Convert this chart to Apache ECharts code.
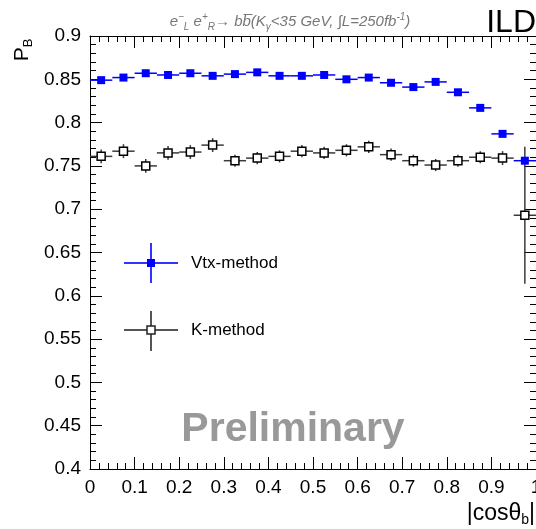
<!DOCTYPE html>
<html>
<head>
<meta charset="utf-8">
<script src="https://cdn.jsdelivr.net/npm/echarts@6/dist/echarts.min.js"></script>
<style>
html,body{margin:0;padding:0;background:#fff;}
#chart{width:536px;height:529px;}
</style>
</head>
<body>
<div id="chart"></div>
<script>
// ---- data ----
const binCenters = [0.025,0.075,0.125,0.175,0.225,0.275,0.325,0.375,0.425,0.475,
                    0.525,0.575,0.625,0.675,0.725,0.775,0.825,0.875,0.925,0.975];
const binHalfWidth = 0.025;
const vtxValues = [0.849,0.852,0.857,0.855,0.857,0.854,0.856,0.858,0.854,0.854,
                   0.855,0.850,0.852,0.846,0.841,0.847,0.835,0.817,0.787,0.756];
const vtxErrors = [0.003,0.003,0.003,0.003,0.003,0.003,0.003,0.003,0.003,0.003,
                   0.003,0.003,0.003,0.003,0.003,0.003,0.003,0.003,0.003,0.004];
const kValues   = [0.761,0.767,0.750,0.765,0.766,0.774,0.756,0.759,0.761,0.767,
                   0.765,0.768,0.772,0.763,0.756,0.751,0.756,0.760,0.759,0.693];
const kErrors   = [0.008,0.008,0.008,0.008,0.008,0.008,0.007,0.007,0.007,0.007,
                   0.007,0.007,0.007,0.007,0.007,0.007,0.007,0.007,0.008,0.079];
const xTickLabels = ['0','0.1','0.2','0.3','0.4','0.5','0.6','0.7','0.8','0.9','1'];
const yTickLabels = ['0.4','0.45','0.5','0.55','0.6','0.65','0.7','0.75','0.8','0.85','0.9'];
const seriesNames = ['Vtx-method','K-method'];

// ---- build ----
const FONT = '"Liberation Sans", Arial, Helvetica, sans-serif';
const vtxData = binCenters.map((x,i)=>[x, vtxValues[i], binHalfWidth, vtxErrors[i]]);
const kData = binCenters.map((x,i)=>[x, kValues[i], binHalfWidth, kErrors[i]]);

function errRender(color, width){
  return function(params, api){
    const x = api.value(0), y = api.value(1), ex = api.value(2), ey = api.value(3);
    const l = api.coord([x-ex, y]), r = api.coord([x+ex, y]);
    const t = api.coord([x, y+ey]), b = api.coord([x, y-ey]);
    const st = {stroke: color, lineWidth: width};
    return {type:'group', children:[
      {type:'line', shape:{x1:l[0], y1:l[1], x2:r[0], y2:r[1]}, style:st},
      {type:'line', shape:{x1:t[0], y1:t[1], x2:b[0], y2:b[1]}, style:st}
    ]};
  };
}

const tickStyle = {color:'#000', width:1};
function xAx(pos, showLabel){
  return {
    type:'value', min:0, max:1, interval:0.1, position:pos,
    axisLine:{show:true, onZero:false, lineStyle:{color:'#000', width:1}},
    axisTick:{show:true, inside:true, length:12, lineStyle:tickStyle},
    minorTick:{show:true, splitNumber:5, length:6, lineStyle:tickStyle},
    splitLine:{show:false},
    axisLabel:{show:showLabel, margin:9, color:'#000', fontSize:19, fontFamily:FONT,
      hideOverlap:false, showMinLabel:true, showMaxLabel:true,
      formatter:(v)=>xTickLabels[Math.round(v*10)]}
  };
}
function yAx(pos, showLabel){
  return {
    type:'value', min:0.4, max:0.9, interval:0.05, position:pos,
    axisLine:{show:true, onZero:false, lineStyle:{color:'#000', width:1}},
    axisTick:{show:true, inside:true, length:12, lineStyle:tickStyle},
    minorTick:{show:true, splitNumber:5, length:6, lineStyle:tickStyle},
    splitLine:{show:false},
    axisLabel:{show:showLabel, margin:9, color:'#000', fontSize:19, fontFamily:FONT,
      formatter:(v)=>yTickLabels[Math.round((v-0.4)*20)]}
  };
}

const chart = echarts.init(document.getElementById('chart'), null, {renderer:'canvas'});
chart.setOption({
  animation:false,
  backgroundColor:'#fff',
  grid:{left:90, right:0, top:36, bottom:60, containLabel:false, outerBoundsMode:'none'},
  xAxis:[xAx('bottom', true), xAx('top', false)],
  yAxis:[yAx('left', true), yAx('right', false)],
  series:[
    {name:seriesNames[0]+' err', type:'custom', xAxisIndex:0, yAxisIndex:0,
     renderItem:errRender('#0000ff', 1.5), data:vtxData, z:2, silent:true},
    {name:seriesNames[1]+' err', type:'custom', xAxisIndex:0, yAxisIndex:0,
     renderItem:errRender('#3a3a3a', 1.5), data:kData, z:2, silent:true},
    {name:seriesNames[0], type:'scatter', symbol:'rect', symbolSize:8,
     itemStyle:{color:'#0000ff', opacity:1}, data:vtxData.map(d=>[d[0],d[1]]), z:3},
    {name:seriesNames[1], type:'scatter', symbol:'rect', symbolSize:8,
     itemStyle:{color:'#fff', borderColor:'#000', borderWidth:1.5, opacity:1},
     data:kData.map(d=>[d[0],d[1]]), z:3}
  ],
  graphic:[
    // title
    {type:'text', x:290, y:22, z:10, style:{
      text:'{m|e}{p|−}{b|L}{m| e}{p|+}{b|R}{m|→ bb̅(K}{b|γ}{m|<35 GeV, ∫L=250fb}{p|-1}{m|)}',
      align:'center', verticalAlign:'middle', fill:'#777',
      rich:{
        m:{fontSize:15, fontStyle:'italic', fontFamily:FONT, lineHeight:20, fill:'#777'},
        p:{fontSize:10, fontStyle:'italic', fontFamily:FONT, lineHeight:10, verticalAlign:'top', fill:'#777'},
        b:{fontSize:10, fontStyle:'italic', fontFamily:FONT, lineHeight:10, verticalAlign:'bottom', fill:'#777'}
      }}},
    // ILD
    {type:'text', x:536, y:23, z:10, style:{text:'ILD', align:'right', verticalAlign:'middle',
      font:'32px '+FONT, fill:'#000'}},
    // y axis name
    {type:'text', x:22, y:50, rotation:Math.PI/2, z:10, style:{
      text:'{p|P}{s|B}', align:'center', verticalAlign:'middle',
      rich:{
        p:{fontSize:21, fontFamily:FONT, lineHeight:26, fill:'#000'},
        s:{fontSize:13, fontFamily:FONT, lineHeight:12, verticalAlign:'bottom', fill:'#000'}
      }}},
    // x axis name
    {type:'text', x:535, y:514, z:10, style:{
      text:'{m||cosθ}{s|b}{m||}', align:'right', verticalAlign:'middle',
      rich:{
        m:{fontSize:23, fontFamily:FONT, lineHeight:26, fill:'#000'},
        s:{fontSize:14, fontFamily:FONT, lineHeight:12, verticalAlign:'bottom', fill:'#000'}
      }}},
    // Preliminary
    {type:'text', x:293, y:430, z:10, style:{text:'Preliminary', align:'center', verticalAlign:'middle',
      font:'bold 41px '+FONT, fill:'#999'}},
    // legend: Vtx
    {type:'line', z:10, shape:{x1:124, y1:263, x2:178, y2:263}, style:{stroke:'#3333ff', lineWidth:2}},
    {type:'line', z:10, shape:{x1:151, y1:243, x2:151, y2:283}, style:{stroke:'#3333ff', lineWidth:2}},
    {type:'rect', z:11, shape:{x:147, y:259, width:8, height:8}, style:{fill:'#0000ff'}},
    {type:'text', z:10, x:191, y:263, style:{text:seriesNames[0], align:'left', verticalAlign:'middle',
      font:'17px '+FONT, fill:'#000'}},
    // legend: K
    {type:'line', z:10, shape:{x1:124, y1:330, x2:178, y2:330}, style:{stroke:'#555', lineWidth:2}},
    {type:'line', z:10, shape:{x1:151, y1:311, x2:151, y2:351}, style:{stroke:'#555', lineWidth:2}},
    {type:'rect', z:11, shape:{x:147, y:326, width:8, height:8}, style:{fill:'#fff', stroke:'#222', lineWidth:1.5}},
    {type:'text', z:10, x:191, y:330, style:{text:seriesNames[1], align:'left', verticalAlign:'middle',
      font:'17px '+FONT, fill:'#000'}}
  ]
});
</script>
</body>
</html>
